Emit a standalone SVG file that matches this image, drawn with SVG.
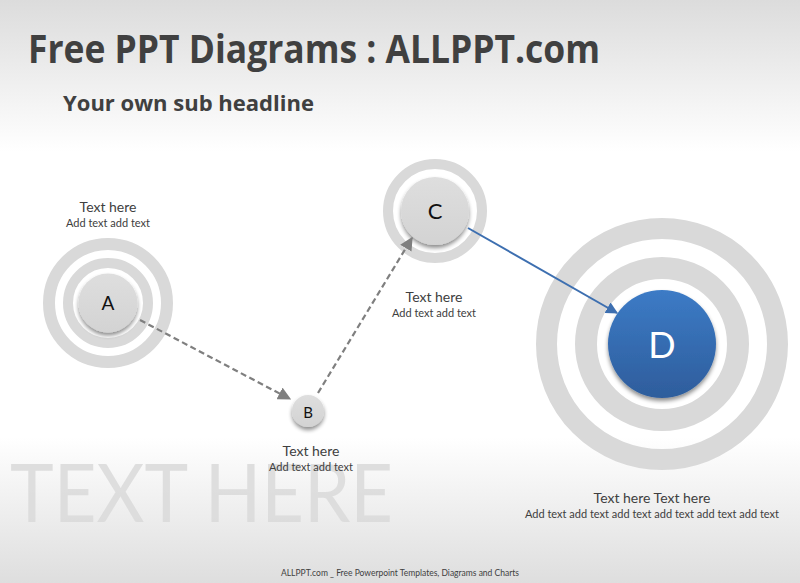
<svg xmlns="http://www.w3.org/2000/svg" width="800" height="583" viewBox="0 0 800 583">
<defs>
<linearGradient id="bg" x1="0" y1="0" x2="0" y2="1">
<stop offset="0" stop-color="#dcdcdc"/>
<stop offset="0.26" stop-color="#ffffff"/>
<stop offset="0.75" stop-color="#ffffff"/>
<stop offset="1" stop-color="#dedede"/>
</linearGradient>
<linearGradient id="blue" x1="0" y1="0" x2="0" y2="1">
<stop offset="0" stop-color="#3c7bc6"/>
<stop offset="1" stop-color="#2e5d9c"/>
</linearGradient>
<linearGradient id="gray" x1="0" y1="0" x2="0" y2="1">
<stop offset="0" stop-color="#dedede"/>
<stop offset="1" stop-color="#d3d3d3"/>
</linearGradient>
<filter id="sh" x="-30%" y="-30%" width="160%" height="170%">
<feGaussianBlur in="SourceAlpha" stdDeviation="2"/>
<feOffset dy="2.5" result="b"/>
<feComponentTransfer><feFuncA type="linear" slope="0.45"/></feComponentTransfer>
<feMerge><feMergeNode/><feMergeNode in="SourceGraphic"/></feMerge>
</filter>
<marker id="ag" viewBox="0 0 10 10" refX="9" refY="5" markerWidth="6" markerHeight="6" orient="auto" markerUnits="strokeWidth">
<path d="M0,0 L10,5 L0,10 z" fill="#7f7f7f"/>
</marker>
<marker id="ab" viewBox="0 0 10 10" refX="9" refY="5" markerWidth="6" markerHeight="6" orient="auto" markerUnits="strokeWidth">
<path d="M0,0 L10,5 L0,10 z" fill="#3d6fb0"/>
</marker>
</defs>
<style>
.ring{fill:none;stroke:#d9d9d9}
.node{fill:url(#gray);filter:url(#sh)}
.lt{font-family:Lato,"Open Sans","Liberation Sans",sans-serif;fill:#404040;text-anchor:middle}
.t1{font-size:14px}
.t2{font-size:11px}
.ltr{font-family:Lato,"Open Sans","Liberation Sans",sans-serif;fill:#111;text-anchor:middle;font-size:19px}
.dash{fill:none;stroke:#7f7f7f;stroke-width:2.2;stroke-dasharray:6,3.5}
</style>
<rect width="800" height="583" fill="url(#bg)"/>
<text x="10" y="522" font-family="Lato,'Open Sans','Liberation Sans',sans-serif" font-size="82" fill="#d9d9d9" fill-opacity="0.85" textLength="383" lengthAdjust="spacingAndGlyphs">TEXT HERE</text>
<text x="28" y="63" font-family="'Open Sans','Liberation Sans',sans-serif" font-weight="700" font-size="40" fill="#404040" textLength="572" lengthAdjust="spacingAndGlyphs">Free PPT Diagrams : ALLPPT.com</text>
<text x="63" y="111" font-family="'Open Sans','Liberation Sans',sans-serif" font-weight="700" font-size="22" fill="#404040" textLength="251" lengthAdjust="spacingAndGlyphs">Your own sub headline</text>

<g id="nodeA">
<circle class="ring" cx="108" cy="303" r="59" stroke-width="12"/>
<circle class="ring" cx="108" cy="303" r="40" stroke-width="10"/>
<circle cx="108" cy="303" r="31" fill="#fff"/>
<circle class="node" cx="108" cy="303" r="29.5"/>
<text class="ltr" x="108" y="310">A</text>
<text class="lt t1" x="108" y="212">Text here</text>
<text class="lt t2" x="108" y="227">Add text add text</text>
</g>
<g id="nodeB">
<circle class="node" cx="308" cy="411" r="16"/>
<text class="ltr" x="308" y="418" style="font-size:15px">B</text>
<text class="lt t1" x="311" y="456">Text here</text>
<text class="lt t2" x="311" y="471">Add text add text</text>
</g>
<g id="nodeC">
<circle class="ring" cx="435" cy="211" r="47" stroke-width="10"/>
<circle class="node" cx="435" cy="211" r="34"/>
<text class="ltr" x="435" y="219" style="font-size:22px">C</text>
<text class="lt t1" x="434" y="302">Text here</text>
<text class="lt t2" x="434" y="317">Add text add text</text>
</g>
<g id="nodeD">
<circle class="ring" cx="662" cy="344" r="115.5" stroke-width="21"/>
<circle class="ring" cx="662" cy="344" r="76" stroke-width="22"/>
<circle cx="662" cy="344" r="54" fill="url(#blue)" filter="url(#sh)"/>
<text x="662" y="358" text-anchor="middle" font-family="Lato,'Open Sans','Liberation Sans',sans-serif" font-size="36" fill="#ffffff">D</text>
<text class="lt t1" x="652" y="503">Text here Text here</text>
<text class="lt t2" x="652" y="518">Add text add text add text add text add text add text</text>
</g>
<g id="connectors">
<line class="dash" x1="140" y1="320" x2="290" y2="399" marker-end="url(#ag)"/>
<line class="dash" x1="318" y1="393" x2="412" y2="238" marker-end="url(#ag)"/>
<line x1="468" y1="228" x2="617" y2="313" stroke="#3d6fb0" stroke-width="2" marker-end="url(#ab)"/>
</g>
<text x="400" y="576" text-anchor="middle" font-family="Lato,'Open Sans','Liberation Sans',sans-serif" font-size="8.5" fill="#404040">ALLPPT.com _ Free Powerpoint Templates, Diagrams and Charts</text>
</svg>
